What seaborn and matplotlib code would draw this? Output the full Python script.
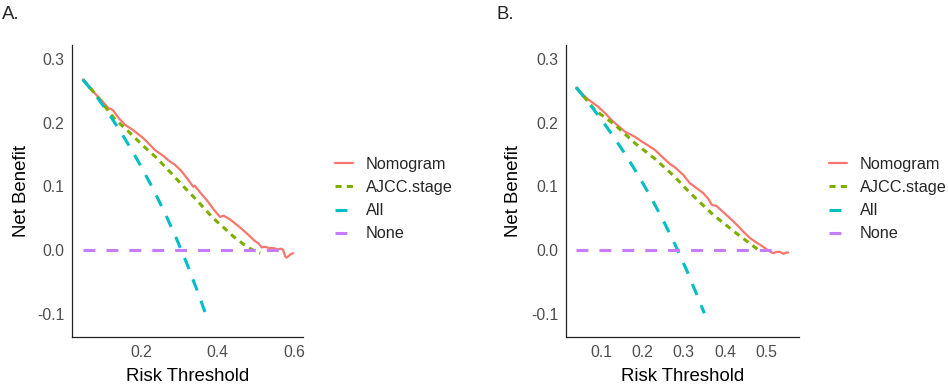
import matplotlib
matplotlib.use("Agg")
import matplotlib.pyplot as plt
import seaborn as sns
import pandas as pd

# ---------------- data ----------------
# Panel A
a_nomo_x = [0.047, 0.065, 0.079, 0.095, 0.114, 0.120, 0.127, 0.140, 0.157, 0.175,
            0.201, 0.215, 0.236, 0.255, 0.275, 0.288, 0.305, 0.323, 0.336, 0.340,
            0.345, 0.360, 0.371, 0.390, 0.406, 0.415, 0.432, 0.455, 0.476, 0.495,
            0.506, 0.515, 0.523, 0.535, 0.545, 0.556, 0.566, 0.571, 0.576, 0.580,
            0.590, 0.597]
a_nomo_y = [0.268, 0.257, 0.246, 0.236, 0.223, 0.222, 0.219, 0.208, 0.197, 0.190,
            0.178, 0.170, 0.157, 0.149, 0.139, 0.134, 0.124, 0.110, 0.0995, 0.101,
            0.097, 0.086, 0.0786, 0.063, 0.052, 0.054, 0.048, 0.037, 0.026, 0.015,
            0.0105, 0.004, 0.005, 0.003, 0.003, 0.001, 0.002, 0.000, -0.010, -0.012,
            -0.007, -0.005]
a_ajcc_x = [0.047, 0.080, 0.131, 0.160, 0.184, 0.210, 0.236, 0.262, 0.284, 0.310,
            0.336, 0.362, 0.388, 0.414, 0.441, 0.465, 0.485, 0.506, 0.511]
a_ajcc_y = [0.268, 0.245, 0.2055, 0.190, 0.176, 0.161, 0.147, 0.131, 0.117, 0.100,
            0.084, 0.067, 0.050, 0.036, 0.021, 0.010, 0.002, -0.004, -0.005]
a_all_x = [0.047, 0.08, 0.11, 0.14, 0.17, 0.20, 0.23, 0.26, 0.29, 0.32, 0.35, 0.372]
a_all_y = [0.268, 0.2441, 0.2187, 0.1914, 0.1622, 0.1307, 0.0969, 0.0603, 0.0206,
           -0.0227, -0.0699, -0.107]
a_none_x = [0.047, 0.575]
a_none_y = [0.0, 0.0]

# Panel B
b_nomo_x = [0.040, 0.0654, 0.0935, 0.110, 0.126, 0.140, 0.158, 0.170, 0.182, 0.200,
            0.215, 0.231, 0.247, 0.267, 0.279, 0.299, 0.315, 0.330, 0.348, 0.360,
            0.368, 0.380, 0.395, 0.412, 0.428, 0.444, 0.460, 0.473, 0.490, 0.501,
            0.510, 0.517, 0.525, 0.533, 0.541, 0.549, 0.553]
b_nomo_y = [0.2555, 0.2385, 0.225, 0.215, 0.204, 0.196, 0.186, 0.182, 0.178, 0.170,
            0.164, 0.157, 0.147, 0.135, 0.130, 0.118, 0.105, 0.098, 0.089, 0.080,
            0.071, 0.069, 0.060, 0.050, 0.040, 0.029, 0.019, 0.013, 0.006, 0.001,
            -0.003, -0.005, -0.003, -0.003, -0.006, -0.004, -0.004]
b_ajcc_x = [0.040, 0.0855, 0.134, 0.182, 0.231, 0.277, 0.315, 0.372, 0.428, 0.481]
b_ajcc_y = [0.2555, 0.220, 0.1965, 0.168, 0.143, 0.116, 0.090, 0.055, 0.026, 0.000]
b_all_x = [0.04, 0.07, 0.10, 0.13, 0.16, 0.19, 0.22, 0.25, 0.28, 0.31, 0.35]
b_all_y = [0.2555, 0.2315, 0.2059, 0.1785, 0.1492, 0.1176, 0.0837, 0.0471, 0.0074,
           -0.0358, -0.0995]
b_none_x = [0.040, 0.529]
b_none_y = [0.0, 0.0]

series_names = ["Nomogram", "AJCC.stage", "All", "None"]
panel_titles = ["A.", "B."]
y_ticks = [-0.1, 0.0, 0.1, 0.2, 0.3]
a_x_ticks = [0.2, 0.4, 0.6]
b_x_ticks = [0.1, 0.2, 0.3, 0.4, 0.5]

# ---------------- style ----------------
sns.set_style("white")
plt.rcParams["font.family"] = ["Liberation Sans", "DejaVu Sans"]

colors = ["#F8766D", "#7CAE00", "#00BFC4", "#C77CFF"]
widths = [1.6, 2.2, 2.2, 2.2]
styles = ["-", (0, (2.0, 1.7)), (0, (3.9, 3.6)), (0, (3.9, 3.6))]

W, H = 948, 386
fig = plt.figure(figsize=(W / 100, H / 100), dpi=100)


def px_axes(left, right, top, bottom):
    return fig.add_axes([left / W, 1 - bottom / H, (right - left) / W, (bottom - top) / H])


panels = [
    dict(rect=(72, 303, 45, 337), xlim=(0.0188, 0.6227), xt=a_x_ticks,
         data=[(a_nomo_x, a_nomo_y), (a_ajcc_x, a_ajcc_y), (a_all_x, a_all_y), (a_none_x, a_none_y)],
         title_x=2, leg_x=335, ylab_x=-0.218),
    dict(rect=(566, 799, 45, 337), xlim=(0.0153, 0.579), xt=b_x_ticks,
         data=[(b_nomo_x, b_nomo_y), (b_ajcc_x, b_ajcc_y), (b_all_x, b_all_y), (b_none_x, b_none_y)],
         title_x=497, leg_x=829, ylab_x=-0.226),
]

for p, title in zip(panels, panel_titles):
    ax = px_axes(*p["rect"])
    handles = []
    for (xs, ys), name, c, lw, ls in zip(p["data"], series_names, colors, widths, styles):
        df = pd.DataFrame({"x": xs, "y": ys})
        sns.lineplot(data=df, x="x", y="y", ax=ax, color=c, linewidth=lw,
                     linestyle=ls, legend=False, estimator=None, sort=False)
        handles.append(ax.lines[-1])
    ax.set_xlim(*p["xlim"])
    ax.set_ylim(-0.1368, 0.3223)
    ax.set_xticks(p["xt"])
    ax.set_xticklabels([f"{v:.1f}" for v in p["xt"]])
    ax.set_yticks(y_ticks)
    ax.set_yticklabels([f"{v:.1f}" for v in y_ticks])
    for s in ["top", "right"]:
        ax.spines[s].set_visible(False)
    for s in ["left", "bottom"]:
        ax.spines[s].set_color("#222222")
        ax.spines[s].set_linewidth(0.9)
    ax.tick_params(axis="both", direction="out", length=2.7, width=0.8,
                   color="#333333", labelcolor="#4D4D4D", labelsize=11.3, pad=3.0)
    ax.set_xlabel("Risk Threshold", fontsize=13.4, color="black")
    ax.set_ylabel("Net Benefit", fontsize=13.4, color="black")
    ax.xaxis.set_label_coords(0.5, -0.134)
    ax.xaxis.label.set_va("center")
    ax.yaxis.set_label_coords(p["ylab_x"], 0.5)
    ax.yaxis.label.set_va("center")
    ax.grid(False)
    ax.set_facecolor("white")

    fig.text(p["title_x"] / W, 1 - 19 / H, title, fontsize=13.4, ha="left", va="baseline")

    fig.legend(handles, series_names, loc="upper left",
               bbox_to_anchor=(p["leg_x"] / W, 1 - 157 / H),
               frameon=False, fontsize=11.7, handlelength=1.1, handletextpad=0.8,
               labelspacing=0.5, borderpad=0, borderaxespad=0)

fig.savefig("out.png", dpi=100, facecolor="white")
